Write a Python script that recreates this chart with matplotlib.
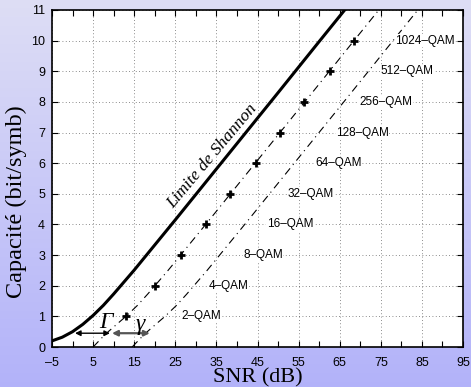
import numpy as np
import matplotlib
matplotlib.use("Agg")
import matplotlib.pyplot as plt

# Shannon limit
shannon_snr = [-5, -2.5, 0, 2.5, 5, 7.5, 10, 12.5, 15, 17.5, 20, 25, 30, 40, 50, 60, 70]
shannon_cap = [0.20, 0.32, 0.50, 0.74, 1.03, 1.36, 1.73, 2.12, 2.51, 2.92, 3.33, 4.15, 4.98, 6.64, 8.30, 9.97, 11.63]

# line through the QAM points (gap Gamma)
gap1_snr = [5.0, 8.0, 11.0, 13.0, 15.8, 18.3, 20.8, 23.3, 28.3, 33.3, 38.3, 48.3, 58.3, 68.3, 78.3]
gap1_cap = [0.0, 0.42, 0.77, 1.0, 1.36, 1.73, 2.12, 2.51, 3.33, 4.15, 4.98, 6.64, 8.30, 9.97, 11.63]

# second line (gap Gamma + gamma)
gap2_snr = [14.5, 17.5, 20.5, 22.5, 25.3, 27.8, 30.3, 32.8, 37.8, 42.8, 47.8, 57.8, 67.8, 77.8, 87.8]
gap2_cap = [0.0, 0.42, 0.77, 1.0, 1.36, 1.73, 2.12, 2.51, 3.33, 4.15, 4.98, 6.64, 8.30, 9.97, 11.63]

# QAM points
qam_snr = [13.0, 20.1, 26.3, 32.4, 38.3, 44.6, 50.5, 56.4, 62.6, 68.5]
qam_bits = [1, 2, 3, 4, 5, 6, 7, 8, 9, 10]
qam_labels = ["2–QAM", "4–QAM", "8–QAM", "16–QAM", "32–QAM", "64–QAM",
              "128–QAM", "256–QAM", "512–QAM", "1024–QAM"]
qam_label_x = [26.6, 33.2, 41.5, 47.3, 52.2, 59.0, 64.1, 69.9, 75.0, 78.5]

xticks = [-5, 5, 15, 25, 35, 45, 55, 65, 75, 85, 95]
xtick_labels = ["–5", "5", "15", "25", "35", "45", "55", "65", "75", "85", "95"]
yticks = [0, 1, 2, 3, 4, 5, 6, 7, 8, 9, 10, 11]

sans = ["Liberation Sans", "DejaVu Sans"]
serif = ["Liberation Serif", "DejaVu Serif"]

fig = plt.figure(figsize=(4.71, 3.87), dpi=100)

# lavender gradient background
bg = fig.add_axes([0, 0, 1, 1], zorder=-1)
top = np.array([0.87, 0.87, 0.96])
bot = np.array([0.70, 0.70, 0.98])
t = np.linspace(0, 1, 256)[:, None]
grad = (top[None, :] * (1 - t) + bot[None, :] * t)[:, None, :]
bg.imshow(np.repeat(grad, 2, axis=1), aspect="auto", extent=[0, 1, 0, 1])
bg.axis("off")

ax = fig.add_axes([52 / 471, 1 - 347 / 387, 411 / 471, 337 / 387])
ax.set_facecolor("white")

ax.plot(shannon_snr, shannon_cap, color="black", lw=2.2)
ax.plot(gap1_snr, gap1_cap, color="black", lw=0.8, ls="-.", dashes=(7, 4, 1, 4))
ax.plot(gap2_snr, gap2_cap, color="black", lw=0.8, ls="-.", dashes=(7, 4, 1, 4))
ax.plot(qam_snr, qam_bits, ls="none", marker="+", ms=6, mew=2.0, color="black")

for lab, lx, b in zip(qam_labels, qam_label_x, qam_bits):
    ax.text(lx, b, lab, fontsize=8.5, family=sans, ha="left", va="center",
            bbox=dict(facecolor="white", edgecolor="none", pad=0.3))

ax.text(24.5, 4.5, "Limite de Shannon", family=serif, style="italic",
        fontsize=12.5, rotation=50, rotation_mode="anchor", ha="left", va="baseline")

# Gamma / gamma arrows
ax.annotate("", xy=(0.6, 0.45), xytext=(9.1, 0.45),
            arrowprops=dict(arrowstyle="<|-|>", color="black", lw=1.0,
                            mutation_scale=8, shrinkA=0, shrinkB=0))
ax.annotate("", xy=(9.6, 0.45), xytext=(18.8, 0.45),
            arrowprops=dict(arrowstyle="<|-|>", color="#555555", lw=1.6,
                            mutation_scale=8, shrinkA=0, shrinkB=0))
ax.text(8.1, 0.80, "Γ", family=serif, style="italic", fontsize=17, ha="center", va="center")
ax.text(16.4, 0.72, "γ", family=serif, style="italic", fontsize=17, ha="center", va="center")

ax.set_xlim(-5, 95)
ax.set_ylim(0, 11)
ax.set_xticks(xticks)
ax.set_xticklabels(xtick_labels, fontfamily=sans)
ax.set_xticks([x + 5 for x in xticks[:-1]], minor=True)
ax.set_yticks(yticks)
ax.set_yticklabels([str(v) for v in yticks], fontfamily=sans)
ax.tick_params(which="both", direction="in", top=True, right=True, length=4,
               width=0.8, labelsize=9)
ax.tick_params(axis="x", pad=7)
ax.tick_params(axis="y", pad=5)
ax.grid(True, which="major", ls=(0, (1, 3)), color="black", lw=0.6, alpha=0.6)
for s in ax.spines.values():
    s.set_linewidth(1.2)

ax.set_xlabel("SNR (dB)", family=serif, fontsize=16)
ax.xaxis.set_label_coords(0.5, -0.062)
ax.set_ylabel("Capacité (bit/symb)", family=serif, fontsize=17.5)
ax.yaxis.set_label_coords(-0.062, 0.43)

fig.savefig("out.png", dpi=100)
